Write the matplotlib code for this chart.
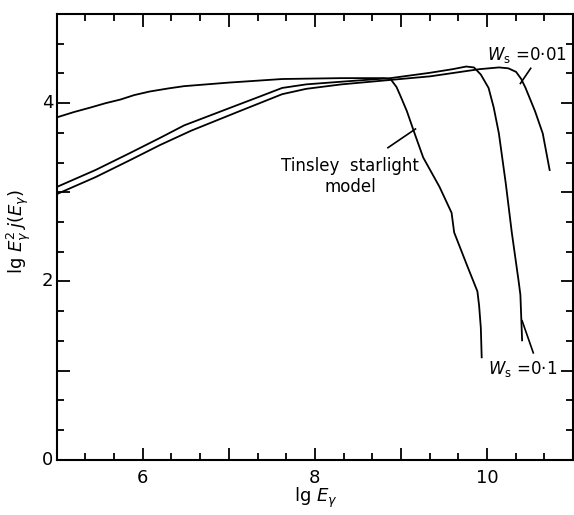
import numpy as np
import matplotlib
matplotlib.use("Agg")
import matplotlib.pyplot as plt
from matplotlib.ticker import MultipleLocator

# curves (lg E, lg E^2 j(E))
tinsley_x = [5.0, 5.2, 5.39, 5.57, 5.74, 5.9, 6.08, 6.3, 6.48, 7.0, 7.62, 8.31, 8.8,
             8.88, 8.95, 9.0, 9.07, 9.16, 9.26, 9.45, 9.59, 9.62, 9.77, 9.89, 9.91,
             9.93, 9.94]
tinsley_y = [3.84, 3.90, 3.95, 4.00, 4.04, 4.09, 4.13, 4.165, 4.19, 4.23, 4.27, 4.28, 4.28,
             4.27, 4.18, 4.07, 3.91, 3.66, 3.39, 3.06, 2.77, 2.55, 2.18, 1.89, 1.73,
             1.48, 1.15]

w01_x = [5.0, 5.45, 5.85, 6.2, 6.48, 7.05, 7.35, 7.62, 7.9, 8.31, 8.88, 9.34, 9.6,
         9.76, 9.85, 9.93, 10.02, 10.08, 10.14, 10.22, 10.29, 10.37, 10.39, 10.41]
w01_y = [3.06, 3.25, 3.44, 3.61, 3.75, 3.96, 4.07, 4.17, 4.21, 4.24, 4.28, 4.34, 4.38,
         4.41, 4.40, 4.32, 4.17, 3.95, 3.66, 3.10, 2.55, 2.00, 1.85, 1.34]

w001_x = [5.0, 5.45, 5.85, 6.2, 6.56, 7.1, 7.62, 7.9, 8.31, 8.88, 9.34, 9.91, 10.14,
          10.25, 10.34, 10.40, 10.45, 10.56, 10.65, 10.73]
w001_y = [2.98, 3.17, 3.36, 3.53, 3.69, 3.90, 4.10, 4.16, 4.21, 4.26, 4.30, 4.38, 4.40,
          4.39, 4.35, 4.27, 4.17, 3.91, 3.66, 3.25]

plt.rcParams['font.family'] = 'DejaVu Sans'
plt.rcParams['mathtext.fontset'] = 'dejavusans'

fig = plt.figure(figsize=(5.74, 5.15), dpi=100)
ax = fig.add_axes([0.099, 0.107, 0.899, 0.866])

for xs, ys in [(tinsley_x, tinsley_y), (w01_x, w01_y), (w001_x, w001_y)]:
    ax.plot(xs, ys, color='black', lw=1.3, solid_joinstyle='round')

# labels with pointer lines
ax.text(8.41, 3.30, 'Tinsley  starlight', ha='center', va='center', fontsize=12)
ax.text(8.41, 3.06, 'model', ha='center', va='center', fontsize=12)
ax.plot([8.85, 9.17], [3.50, 3.71], color='black', lw=1.2)

ax.text(10.46, 4.54, r'$W_{\rm s}$ =0·01', ha='center', va='center', fontsize=12)
ax.plot([10.39, 10.51], [4.22, 4.39], color='black', lw=1.2)

ax.text(10.42, 1.02, r'$W_{\rm s}$ =0·1', ha='center', va='center', fontsize=12)
ax.plot([10.41, 10.54], [1.56, 1.20], color='black', lw=1.2)

ax.set_xlim(5, 11)
ax.set_ylim(0, 5)
ax.xaxis.set_major_locator(MultipleLocator(1))
ax.xaxis.set_minor_locator(MultipleLocator(1 / 3))
ax.yaxis.set_major_locator(MultipleLocator(1))
ax.yaxis.set_minor_locator(MultipleLocator(1 / 3))
ax.set_xticklabels([])
ax.set_yticklabels([])
for v in [6, 8, 10]:
    ax.text(v, -0.1, str(v), ha='center', va='top', fontsize=13)
for v in [0, 2, 4]:
    ax.text(4.96, v, str(v), ha='right', va='center', fontsize=13)

ax.tick_params(which='both', direction='in', top=True, right=True, width=1.3)
ax.tick_params(which='major', length=9)
ax.tick_params(which='minor', length=5)
for s in ax.spines.values():
    s.set_linewidth(1.5)

fig.text(0.55, 0.033, r'lg $E_\gamma$', ha='center', va='center', fontsize=13)
fig.text(0.032, 0.55, r'lg $E_\gamma^2\, j(E_\gamma)$', ha='center', va='center',
         rotation=90, fontsize=13)

fig.savefig('out.png', dpi=100)
